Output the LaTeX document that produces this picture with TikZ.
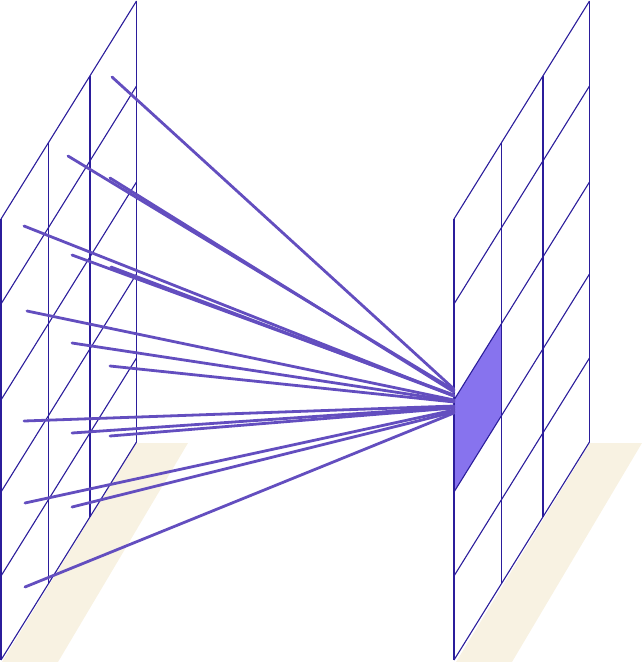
\documentclass[tikz,border=0pt]{standalone}
\definecolor{gridc}{HTML}{2B1D9B}
\definecolor{connc}{HTML}{634EBF}
\definecolor{cellc}{HTML}{8773EE}
\definecolor{shadowc}{HTML}{F8F2E2}
\begin{document}
\begin{tikzpicture}[x=1pt,y=-1pt,
  gridline/.style={draw=gridc,line width=1.1pt},
  conn/.style={draw=connc,line width=2.8pt,line cap=round},
  shadowbox/.style={fill=shadowc}]
\useasboundingbox (0,0) rectangle (642,662);
% shadows
\fill[shadowbox] (136,443) -- (188,443) -- (58,662) -- (2,662) -- cycle;
\fill[shadowbox] (590,443) -- (642,443) -- (512,662) -- (456,662) -- cycle;
% highlighted cell
\fill[cellc] (454,400) -- (501.5,323.6) -- (501.5,415.6) -- (454,492) -- cycle;
% grids
\foreach \X in {1,454}{
  \foreach \d in {0,47.5,89,135.5}{
    \draw[gridline] ({\X+\d},{219-1.609*\d}) -- ({\X+\d},{660-1.609*\d});
  }
  \foreach \L in {219,304,400,492,576,660}{
    \draw[gridline] (\X,\L) -- ({\X+135.5},{\L-218});
  }
}
% connectors
\foreach \i/\sx/\sy/\ey in {1/112/77/389,2/68/156/390,3/110/178/392,4/24/226/396,5/72/255/395,6/111/267/396,7/27/311/400,8/72/343/401,9/110/366/402,10/24/421/406,11/72/433/407,12/110/436/408,13/25/503/410,14/72/507/412,15/25/587/413}{
  \coordinate (s\i) at (\sx,\sy);
  \coordinate (e\i) at (454,\ey);
  \draw[conn] (s\i) -- (e\i);
}
\end{tikzpicture}
\end{document}
